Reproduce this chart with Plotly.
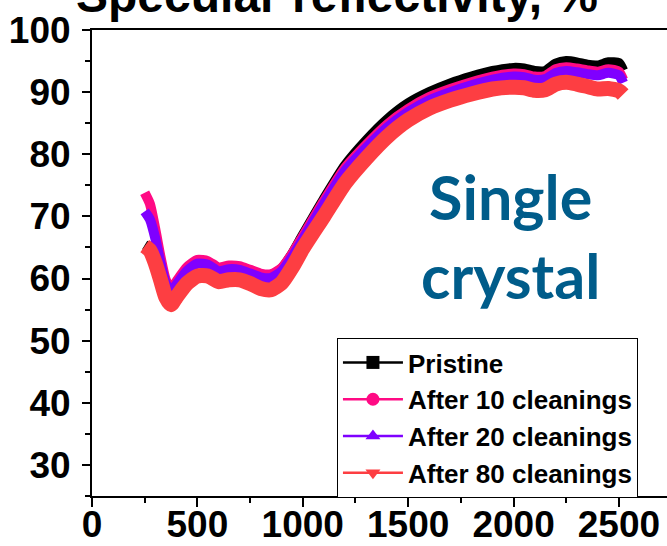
import plotly.graph_objects as go

# Wavelength grid (nm) shared by all four spectra
wavelength = [250, 275, 300, 325, 350, 375, 400, 450, 500, 550, 600, 650, 700, 750,
              800, 850, 900, 950, 1000, 1100, 1200, 1300, 1400, 1500, 1600, 1700,
              1800, 1900, 2000, 2050, 2100, 2150, 2200, 2250, 2300, 2350, 2400,
              2450, 2500, 2520]

# Specular reflectivity, %
pristine = [65.4, 64.8, 63.0, 60.5, 57.5, 56.3, 57.8, 60.8, 62.5, 62.5, 61.5, 61.8,
            61.8, 61.2, 60.5, 60.4, 61.6, 64.0, 67.0, 72.8, 78.2, 82.2, 85.6, 88.2,
            90.0, 91.4, 92.5, 93.4, 93.9, 93.8, 93.4, 93.4, 94.6, 95.0, 94.8, 94.4,
            94.3, 94.8, 94.7, 93.5]
after_10 = [73.8, 72.0, 68.0, 63.5, 59.8, 58.3, 59.5, 61.8, 63.0, 62.8, 61.8, 62.1,
            62.0, 61.4, 60.8, 60.7, 61.7, 64.0, 66.8, 72.5, 77.8, 81.5, 84.8, 87.3,
            89.2, 90.5, 91.6, 92.5, 93.0, 92.9, 92.5, 92.6, 93.7, 94.0, 93.8, 93.5,
            93.3, 93.7, 93.3, 92.0]
after_20 = [70.8, 69.5, 66.5, 62.5, 59.2, 57.8, 59.0, 61.2, 62.4, 62.2, 61.2, 61.5,
            61.4, 60.8, 60.2, 60.1, 61.2, 63.5, 66.3, 72.0, 77.3, 81.0, 84.3, 86.8,
            88.7, 90.0, 91.1, 92.0, 92.5, 92.4, 92.0, 92.1, 93.1, 93.4, 93.2, 92.9,
            92.7, 93.1, 92.7, 91.5]
after_80 = [65.2, 64.5, 62.5, 59.8, 57.0, 55.8, 57.0, 59.2, 60.4, 60.4, 59.5, 59.8,
            59.8, 59.2, 58.4, 58.2, 59.3, 61.8, 64.8, 70.0, 75.3, 79.3, 82.8, 85.5,
            87.4, 88.7, 89.7, 90.5, 90.8, 90.7, 90.3, 90.4, 91.3, 91.6, 91.3, 90.9,
            90.5, 90.6, 90.2, 89.6]

series_names = ["Pristine", "After 10 cleanings", "After 20 cleanings", "After 80 cleanings"]
series_values = [pristine, after_10, after_20, after_80]
colors = ["#000000", "#ff0a84", "#7f00ff", "#fd3e42"]
symbols = ["square", "circle", "triangle-up", "triangle-down"]
band_widths = [10, 10, 10, 15]

x_ticks = [0, 500, 1000, 1500, 2000, 2500]
y_ticks = [30, 40, 50, 60, 70, 80, 90, 100]

fig = go.Figure()

# Dense measured spectra are drawn as thick bands
for name, vals, col, w in zip(series_names, series_values, colors, band_widths):
    fig.add_trace(go.Scatter(
        x=wavelength, y=vals, mode="lines", name=name,
        line=dict(color=col, width=w, shape="spline", smoothing=0.6),
        showlegend=False, hoverinfo="x+y+name",
    ))

# Legend entries (line with symbol)
for i, (name, col, sym) in enumerate(zip(series_names, colors, symbols)):
    fig.add_trace(go.Scatter(
        x=[None], y=[None], mode="lines+markers", name=name,
        legendgroup=f"g{i}",
        line=dict(color=col, width=2.5),
        marker=dict(color=col, symbol=sym, size=13),
    ))

axis_font = dict(family="Liberation Sans, Arial", size=37, color="black", weight="bold")

fig.update_xaxes(
    range=[0, 2728], tickvals=x_ticks, ticktext=[str(v) for v in x_ticks],
    showline=True, linecolor="black", linewidth=2, mirror=True,
    ticks="outside", ticklen=9, tickwidth=2, tickcolor="black",
    minor=dict(ticks="outside", ticklen=5, tickwidth=2, tickcolor="black", dtick=250, tick0=0),
    showgrid=False, zeroline=False, tickfont=axis_font, automargin=False,
    ticklabelstandoff=-14,
)
fig.update_yaxes(
    range=[25, 100], tickvals=y_ticks, ticktext=[str(v) for v in y_ticks],
    showline=True, linecolor="black", linewidth=2, mirror=False,
    ticks="outside", ticklen=8, tickwidth=2, tickcolor="black",
    minor=dict(ticks="outside", ticklen=5, tickwidth=2, tickcolor="black", dtick=5, tick0=0),
    showgrid=False, zeroline=False, tickfont=axis_font, ticklabelstandoff=4,
    automargin=False,
)

fig.add_annotation(
    text="<b>Specular reflectivity, %</b>", xref="paper", yref="paper",
    x=0.426, y=1.0, xanchor="center", yanchor="bottom", yshift=6,
    showarrow=False, font=dict(family="Liberation Sans, Arial", size=48, color="black"),
)
fig.add_annotation(
    text="Single<br>crystal", xref="paper", yref="paper",
    x=0.727, y=0.557, xanchor="center", yanchor="middle", align="center",
    showarrow=False,
    font=dict(family="Lato", size=61, color="#005c8a", weight="bold"),
)

fig.update_layout(
    width=667, height=546,
    margin=dict(l=92, r=0, t=30, b=50, autoexpand=False),
    paper_bgcolor="white", plot_bgcolor="white",
    showlegend=True,
    legend=dict(
        x=0.426, y=0.339, xanchor="left", yanchor="top",
        bgcolor="white", bordercolor="black", borderwidth=1,
        font=dict(family="Liberation Sans, Arial", size=26, color="black", weight="bold"),
        traceorder="grouped", tracegroupgap=0, itemwidth=60,
    ),
)

fig.write_html("out.html")
